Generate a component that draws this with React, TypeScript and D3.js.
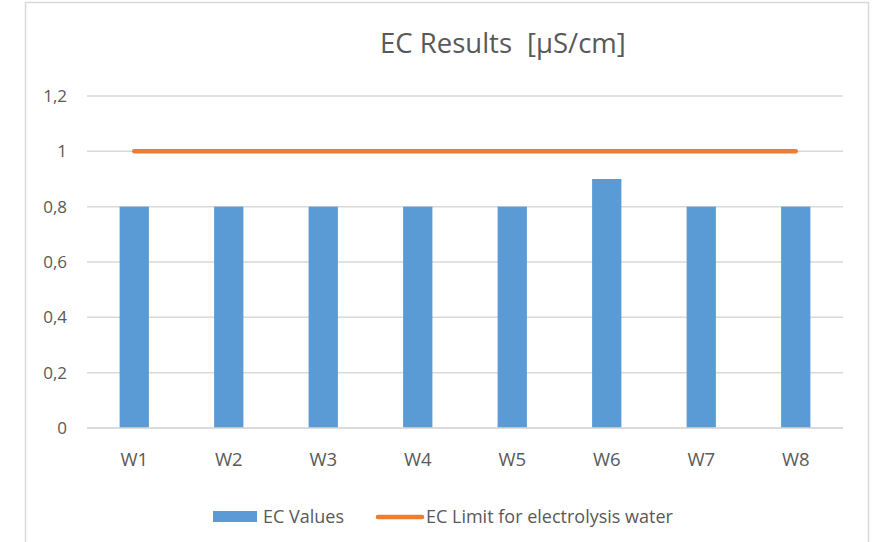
import React from "react";
import * as d3 from "d3";

const categories = ["W1", "W2", "W3", "W4", "W5", "W6", "W7", "W8"];
const ecValues = [0.8, 0.8, 0.8, 0.8, 0.8, 0.9, 0.8, 0.8];
const ecLimit = [1, 1, 1, 1, 1, 1, 1, 1];
const yTicks = [0, 0.2, 0.4, 0.6, 0.8, 1, 1.2];
const titleMain = "EC Results";
const titleUnit = "[μS/cm]";
const seriesNames = ["EC Values", "EC Limit for electrolysis water"];

const W = 877;
const H = 542;
const FONT = "'Open Sans', 'DejaVu Sans', sans-serif";
const TEXT = "#595959";
const GRID = "#D9D9D9";
const BLUE = "#5B9BD5";
const ORANGE = "#ED7D31";

export default function App() {
  const left = 87;
  const right = 843;
  const top = 96;
  const bottom = 428;

  const x = d3.scaleBand<string>().domain(categories).range([left, right]).paddingInner(0).paddingOuter(0);
  const y = d3.scaleLinear().domain([0, 1.2]).range([bottom, top]);
  const barW = x.bandwidth() * 0.31;
  const fmt = (v: number) => d3.format("~g")(+v.toFixed(1)).replace(".", ",");

  const line = d3
    .line<number>()
    .x((_, i) => (x(categories[i]) as number) + x.bandwidth() / 2)
    .y((d) => y(d));

  return (
    <svg
      width={W}
      height={H}
      style={{ position: "absolute", left: 0, top: 0, display: "block", background: "#fff" }}
      fontFamily={FONT}
    >
      <rect x={25.5} y={2.5} width={843} height={560} fill="#fff" stroke={GRID} strokeWidth={1.5} />
      <text x={380} y={53} fontSize={27.5} fill={TEXT}>
        {titleMain}
      </text>
      <text x={527} y={53} fontSize={27.5} fill={TEXT}>
        {titleUnit}
      </text>
      {yTicks.map((t) => (
        <g key={t}>
          <line x1={left} x2={right} y1={y(t)} y2={y(t)} stroke={GRID} strokeWidth={1.5} />
          <text x={67} y={y(t)} dy="0.35em" textAnchor="end" fontSize={17} fill={TEXT}>
            {fmt(t)}
          </text>
        </g>
      ))}
      {categories.map((c, i) => (
        <g key={c}>
          <rect
            x={(x(c) as number) + x.bandwidth() / 2 - barW / 2}
            y={y(ecValues[i])}
            width={barW}
            height={y(0) - y(ecValues[i])}
            fill={BLUE}
          />
          <text
            x={(x(c) as number) + x.bandwidth() / 2}
            y={466}
            textAnchor="middle"
            fontSize={18.5}
            fill={TEXT}
          >
            {c}
          </text>
        </g>
      ))}
      <line x1={left} x2={right} y1={y(0)} y2={y(0)} stroke={GRID} strokeWidth={1.5} />
      <path d={line(ecLimit) || ""} fill="none" stroke={ORANGE} strokeWidth={4.5} strokeLinecap="round" />
      <rect x={213} y={511} width={44} height={11} fill={BLUE} />
      <text x={263} y={517} dy="0.36em" fontSize={18} fill={TEXT}>
        {seriesNames[0]}
      </text>
      <line x1={378} x2={422} y1={517} y2={517} stroke={ORANGE} strokeWidth={4.5} strokeLinecap="round" />
      <text x={426} y={517} dy="0.36em" fontSize={18} fill={TEXT}>
        {seriesNames[1]}
      </text>
    </svg>
  );
}
